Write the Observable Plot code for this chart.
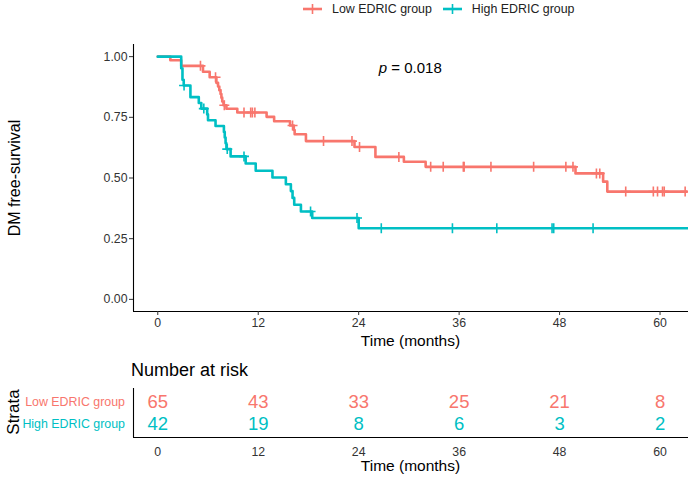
<!DOCTYPE html>
<html>
<head>
<meta charset="utf-8">
<script src="https://cdn.jsdelivr.net/npm/d3@7"></script>
<script src="https://cdn.jsdelivr.net/npm/@observablehq/plot@0.6"></script>
<style>
  body { margin: 0; background: #fff; font-family: "Liberation Sans", Arial, sans-serif; }
  #fig { position: relative; width: 693px; height: 480px; overflow: hidden; background: #fff; }
  .abs { position: absolute; white-space: nowrap; color: #000; }
  .legend { position: absolute; top: 2px; left: 303px; display: flex; align-items: center; font-size: 12.4px; color: #222; }
  .legend svg { display: block; }
  .legend span { margin-left: 10px; margin-right: 11px; }
</style>
</head>
<body>
<div id="fig"></div>
<script>
// Strata and colours
const groups = ["Low EDRIC group", "High EDRIC group"];
const colors = ["#F8766D", "#00BFC4"];

// Kaplan–Meier steps: time (months) and survival after each step
const lowTime = [0, 1.5, 2.8, 5.4, 6.2, 7.0, 7.2, 7.35, 7.5, 7.6, 7.7, 7.85, 8.2, 9.5, 13.0, 13.9, 15.8, 16.25, 16.35, 17.7, 23.5, 26.0, 29.4, 32.0, 49.9, 53.2, 53.7, 63.2];
const lowSurv = [1, 0.985, 0.962, 0.938, 0.915, 0.892, 0.877, 0.862, 0.846, 0.831, 0.815, 0.8, 0.785, 0.77, 0.752, 0.734, 0.716, 0.698, 0.68, 0.652, 0.628, 0.587, 0.567, 0.546, 0.519, 0.485, 0.444, 0.444];
const highTime = [0, 2.8, 2.95, 3.1, 3.9, 4.9, 5.2, 5.9, 6.0, 6.9, 7.9, 8.0, 8.1, 8.2, 8.7, 10.5, 11.7, 13.7, 15.3, 15.9, 16.1, 16.3, 17.1, 18.45, 24.0, 64];
const highSurv = [1, 0.952, 0.905, 0.881, 0.833, 0.809, 0.786, 0.762, 0.738, 0.714, 0.69, 0.667, 0.643, 0.619, 0.589, 0.56, 0.53, 0.502, 0.474, 0.446, 0.418, 0.39, 0.362, 0.335, 0.293, 0.293];

// Censoring times (months)
const lowCensor = [5.1, 6.9, 7.95, 10.3, 11.1, 11.3, 11.6, 16.1, 19.8, 23.2, 24.1, 28.8, 32.6, 34.1, 36.5, 36.6, 39.8, 44.9, 48.75, 49.6, 52.4, 52.8, 55.9, 59.2, 59.7, 60.3, 60.5, 63.0];
const highCensor = [3.14, 5.5, 8.3, 10.3, 18.25, 23.8, 26.7, 35.2, 40.5, 47.1, 47.3, 52.0];

// Number at risk
const riskTimes = [0, 12, 24, 36, 48, 60];
const riskLow = [65, 43, 33, 25, 21, 8];
const riskHigh = [42, 19, 8, 6, 3, 2];

const timeTicks = [0, 12, 24, 36, 48, 60];
const survTicks = [0, 0.25, 0.5, 0.75, 1];
const pValue = "0.018";
const pValueAt = { time: 26.4, surv: 0.952 };

const xDomain = [-2.9, 63.4];
const yDomain = [-0.05, 1.05];
const font = "'Liberation Sans', Arial, sans-serif";

function survAt(times, survs, t) {
  let s = survs[0];
  for (let i = 0; i < times.length; i++) if (times[i] <= t) s = survs[i];
  return s;
}

const series = [
  { group: groups[0], times: lowTime, survs: lowSurv, censor: lowCensor, risk: riskLow, row: 2 },
  { group: groups[1], times: highTime, survs: highSurv, censor: highCensor, risk: riskHigh, row: 1 }
];

const curveRows = series.flatMap(s => s.times.map((t, i) => ({ group: s.group, time: t, surv: s.survs[i] })));
const censorRows = series.flatMap(s => s.censor.map(t => ({ group: s.group, time: t, surv: survAt(s.times, s.survs, t) })));
const riskRows = series.flatMap(s => riskTimes.map((t, i) => ({ group: s.group, time: t, n: s.risk[i], row: s.row })));
const strataRows = series.map(s => ({ group: s.group, row: s.row }));

// "+" censor glyph drawn as two strokes
const crossSymbol = {
  draw(context, size) {
    const r = Math.sqrt(size / Math.PI);
    context.moveTo(-r, 0); context.lineTo(r, 0);
    context.moveTo(0, -r); context.lineTo(0, r);
  }
};

const fig = document.getElementById("fig");

function addText(text, css) {
  const d = document.createElement("div");
  d.className = "abs";
  d.textContent = text;
  Object.assign(d.style, css);
  fig.appendChild(d);
  return d;
}

// Legend
const legend = document.createElement("div");
legend.className = "legend";
groups.forEach((g, i) => {
  const sw = d3.create("svg").attr("width", 19).attr("height", 14);
  sw.append("line").attr("x1", 0).attr("x2", 19).attr("y1", 7).attr("y2", 7).attr("stroke", colors[i]).attr("stroke-width", 2.6);
  sw.append("line").attr("x1", 9.5).attr("x2", 9.5).attr("y1", 2).attr("y2", 12).attr("stroke", colors[i]).attr("stroke-width", 1.6);
  legend.appendChild(sw.node());
  const sp = document.createElement("span");
  sp.textContent = g;
  legend.appendChild(sp);
});
fig.appendChild(legend);

// Survival curves
const main = Plot.plot({
  width: 693,
  height: 325,
  marginTop: 14,
  marginBottom: 44,
  marginLeft: 133,
  marginRight: 5,
  style: { fontFamily: font, background: "transparent", overflow: "visible" },
  x: { domain: xDomain, label: null },
  y: { domain: yDomain, label: null },
  color: { domain: groups, range: colors },
  marks: [
    Plot.line(curveRows, { x: "time", y: "surv", z: "group", stroke: "group", curve: "step-after", strokeWidth: 2.6, clip: true }),
    Plot.dot(censorRows, { x: "time", y: "surv", stroke: "group", fill: "none", symbol: crossSymbol, r: 5, strokeWidth: 1.6, clip: true }),
    Plot.ruleX([xDomain[0]], { stroke: "#000", strokeWidth: 1.1 }),
    Plot.ruleY([yDomain[0]], { stroke: "#000", strokeWidth: 1.1 }),
    Plot.axisX({ ticks: timeTicks, tickSize: 4, tickPadding: 3, fontSize: 12.3, fill: "#333", stroke: "#333", label: null }),
    Plot.axisY({ ticks: survTicks, tickFormat: d3.format(".2f"), tickSize: 4, tickPadding: 2, fontSize: 12.3, fill: "#333", stroke: "#333", label: null }),
    Plot.text([pValueAt], { x: "time", y: "surv", text: () => "p", fontStyle: "italic", textAnchor: "start", fontSize: 15, fill: "#000" }),
    Plot.text([pValueAt], { x: "time", y: "surv", text: () => "= " + pValue, textAnchor: "start", dx: 12.5, fontSize: 15, fill: "#000" })
  ]
});
main.style.position = "absolute";
main.style.left = "0px";
main.style.top = "30px";
fig.appendChild(main);

addText("Time (months)", { left: "133px", width: "555px", textAlign: "center", top: "332px", fontSize: "15.5px", lineHeight: "18px" });
addText("DM free-survival", { left: "-85px", width: "200px", textAlign: "center", top: "169px", fontSize: "16px", lineHeight: "18px", transform: "rotate(-90deg)" });

// Risk table
addText("Number at risk", { left: "131px", top: "361px", fontSize: "18px", lineHeight: "18px" });

const table = Plot.plot({
  width: 693,
  height: 95,
  marginTop: 3,
  marginBottom: 43,
  marginLeft: 133,
  marginRight: 5,
  style: { fontFamily: font, background: "transparent", overflow: "visible" },
  x: { domain: xDomain, label: null },
  y: { domain: [0.4, 2.627], axis: null },
  color: { domain: groups, range: colors },
  marks: [
    Plot.ruleX([xDomain[0]], { stroke: "#000", strokeWidth: 1.1 }),
    Plot.ruleY([0.4], { stroke: "#000", strokeWidth: 1.1 }),
    Plot.axisX({ ticks: timeTicks, tickSize: 0, tickPadding: 10, fontSize: 12.3, fill: "#333", label: null }),
    Plot.text(riskRows, { x: "time", y: "row", text: "n", fill: "group", fontSize: 18.5 }),
    Plot.text(strataRows, { frameAnchor: "left", y: "row", text: "group", fill: "group", textAnchor: "end", dx: -8.5, fontSize: 12.4 })
  ]
});
table.style.position = "absolute";
table.style.left = "0px";
table.style.top = "385px";
fig.appendChild(table);

addText("Time (months)", { left: "133px", width: "555px", textAlign: "center", top: "457px", fontSize: "15.5px", lineHeight: "18px" });
addText("Strata", { left: "-86px", width: "200px", textAlign: "center", top: "403px", fontSize: "17px", lineHeight: "18px", transform: "rotate(-90deg)" });
</script>
</body>
</html>
